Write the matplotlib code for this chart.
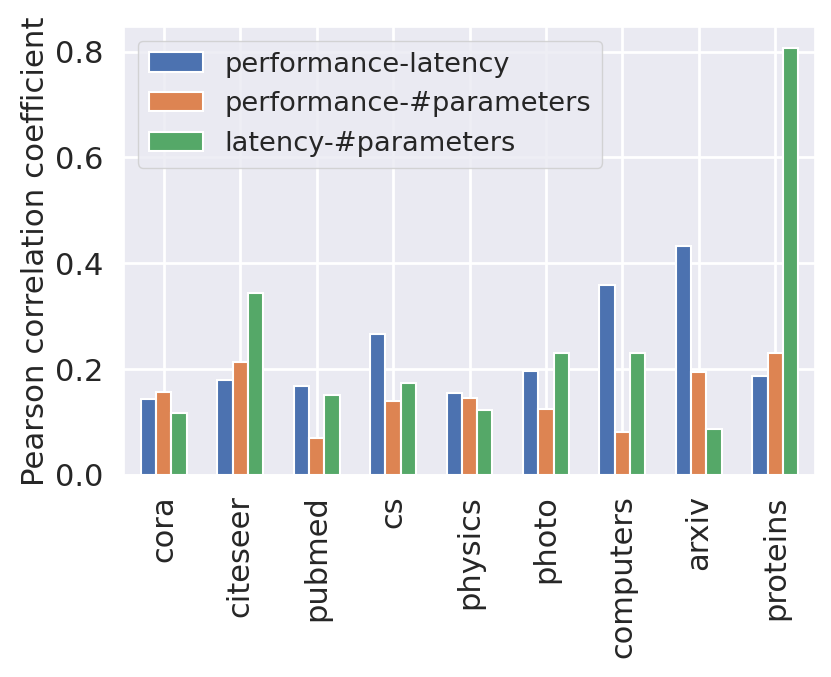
import numpy as np
import matplotlib.pyplot as plt
import seaborn as sns

# datasets and correlation values
datasets = ['cora', 'citeseer', 'pubmed', 'cs', 'physics', 'photo', 'computers', 'arxiv', 'proteins']
perf_latency = [0.144, 0.179, 0.169, 0.266, 0.154, 0.196, 0.358, 0.433, 0.187]
perf_params = [0.156, 0.213, 0.070, 0.140, 0.146, 0.125, 0.082, 0.194, 0.231]
latency_params = [0.118, 0.343, 0.151, 0.174, 0.123, 0.230, 0.231, 0.086, 0.806]

sns.set_theme(style='darkgrid', font_scale=2)
plt.rcParams['grid.linewidth'] = 2

fig, ax = plt.subplots(figsize=(8.31, 6.77), dpi=100)
fig.subplots_adjust(left=124/831, right=815/831, top=1-27/677, bottom=1-475/677)

x = np.arange(len(datasets))
w = 0.2
ax.bar(x - w, perf_latency, w, label='performance-latency', edgecolor='white', linewidth=1.5)
ax.bar(x, perf_params, w, label='performance-#parameters', edgecolor='white', linewidth=1.5)
ax.bar(x + w, latency_params, w, label='latency-#parameters', edgecolor='white', linewidth=1.5)

ax.set_xticks(x)
ax.set_xticklabels(datasets, rotation=90, fontsize=22)
ax.tick_params(axis='y', labelsize=22, pad=8.5)
ax.tick_params(axis='x', pad=8.5)
ax.set_xlim(-0.52, 8.52)
ax.set_ylabel('Pearson correlation coefficient', fontsize=22.2, labelpad=4)
ax.legend(loc='upper left', fontsize=19.6)

plt.savefig('out.png')
